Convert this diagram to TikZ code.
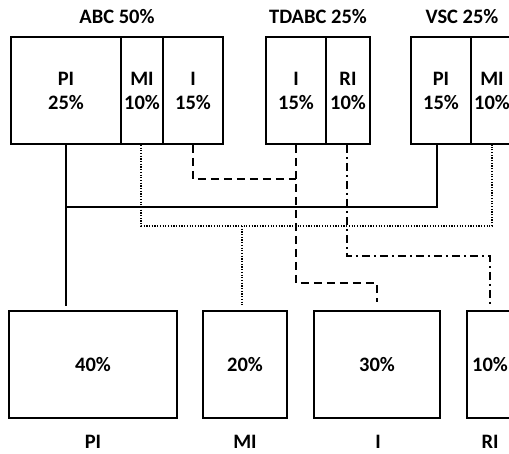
\documentclass[tikz,border=0pt]{standalone}
\usepackage{fontspec}
\setmainfont{Carlito}
\usetikzlibrary{calc}
\begin{document}
\begin{tikzpicture}[x=1pt,y=-1pt,
  txt/.style={font=\fontsize{20.5}{24}\selectfont\bfseries},
  cell/.style={draw, line width=1.8pt, minimum height=107pt, inner sep=0pt, align=center, txt},
  lbl/.style={inner sep=0pt, txt},
  conn/.style={line width=2pt},
  dotline/.style={line width=2pt, dash pattern=on 1.2pt off 1.5pt},
  dashline/.style={line width=2pt, dash pattern=on 8pt off 5pt},
  dashdotline/.style={line width=2pt, dash pattern=on 8pt off 4pt on 2pt off 4pt}]
\useasboundingbox (0,0) rectangle (509,454);
\clip (0,0) rectangle (509,454);
% top boxes
\node[cell, minimum width=110pt] (abcPI) at (66,90.5) {PI\\25\%};
\node[cell, minimum width=42pt] (abcMI) at (142,90.5) {MI\\10\%};
\node[cell, minimum width=60pt] (abcI) at (193,90.5) {I\\15\%};
\node[cell, minimum width=60pt] (tdI) at (296,90.5) {I\\15\%};
\node[cell, minimum width=44pt] (tdRI) at (348,90.5) {RI\\10\%};
\node[cell, minimum width=60pt] (vscPI) at (441,90.5) {PI\\15\%};
\node[cell, minimum width=42pt] (vscMI) at (492,90.5) {MI\\10\%};
% titles
\node[lbl] (tABC) at (117,17) {ABC 50\%};
\node[lbl] (tTD) at (318,17) {TDABC 25\%};
\node[lbl] (tVSC) at (462,17) {VSC 25\%};
% bottom boxes
\node[cell, minimum width=168pt] (bPI) at (93,364.5) {40\%};
\node[cell, minimum width=84pt] (bMI) at (245,364.5) {20\%};
\node[cell, minimum width=126pt] (bI) at (377,364.5) {30\%};
\node[cell, minimum width=46pt] (bRI) at (490,364.5) {10\%};
% bottom labels
\node[lbl] (lPI) at (93,442) {PI};
\node[lbl] (lMI) at (245,442) {MI};
\node[lbl] (lI) at (378,442) {I};
\node[lbl] (lRI) at (490,442) {RI};
% level coordinates
\coordinate (solidY) at (0,207);
\coordinate (dotY) at (0,226);
\coordinate (dashY) at (0,179);
% solid connectors
\draw[conn, shorten >=4pt] (abcPI.south) -- (abcPI.south |- bPI.north);
\draw[conn] (abcPI.south |- solidY) -| ($(vscPI.south)+(-4,0)$);
% dotted connectors
\draw[dotline] ($(abcMI.south)+(-1,0)$) |- (vscMI.south |- dotY) -- (vscMI.south);
\draw[dotline, shorten >=4pt] ($(bMI.north |- dotY)+(-3,0)$) -- ($(bMI.north)+(-3,0)$);
% dashed connectors
\draw[dashline] (abcI.south) |- (tdI.south |- dashY);
\draw[dashline, shorten >=8pt] (tdI.south) |- ($(bI.north)+(0,-27)$) -- (bI.north);
% dash-dot connector
\draw[dashdotline, shorten >=4pt] ($(tdRI.south)+(-1,0)$) |- ($(bRI.north)+(0,-54)$) -- (bRI.north);
\end{tikzpicture}
\end{document}
